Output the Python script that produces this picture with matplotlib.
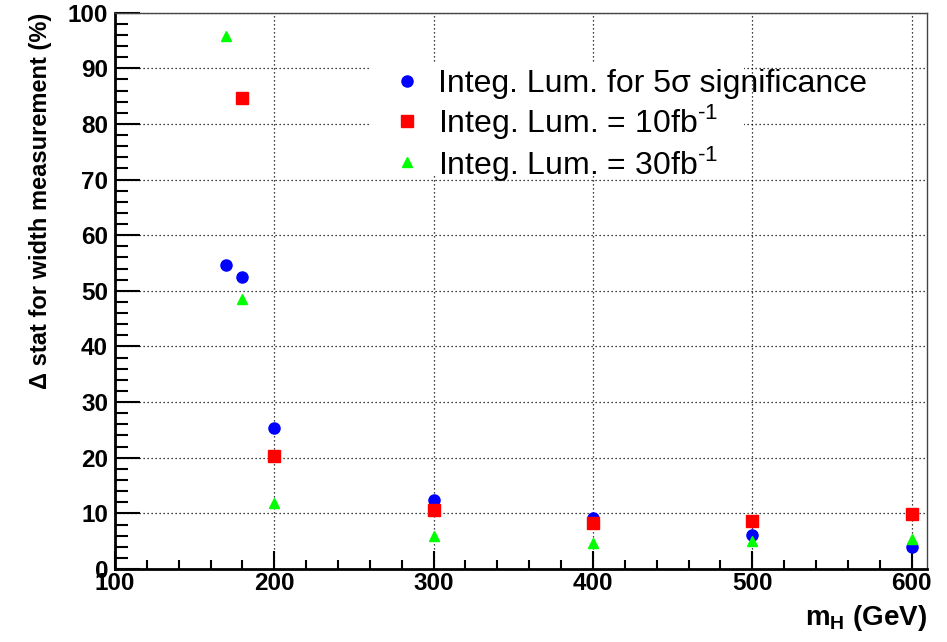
import matplotlib
matplotlib.use("Agg")
import matplotlib.pyplot as plt
from matplotlib.patches import Rectangle
from matplotlib.ticker import MultipleLocator

plt.rcParams["font.family"] = ["Liberation Sans", "DejaVu Sans"]
plt.rcParams["mathtext.fontset"] = "custom"
plt.rcParams["mathtext.rm"] = "Liberation Sans"
plt.rcParams["mathtext.bf"] = "Liberation Sans:bold"

# Higgs mass points (GeV) and relative stat. error on width (%)
mass_5sigma = [170, 180, 200, 300, 400, 500, 600]
err_5sigma = [54.7, 52.5, 25.3, 12.4, 9.2, 6.2, 3.9]

mass_10fb = [180, 200, 300, 400, 500, 600]
err_10fb = [84.6, 20.4, 10.6, 8.3, 8.7, 9.9]

mass_30fb = [170, 180, 200, 300, 400, 500, 600]
err_30fb = [95.8, 48.6, 11.8, 6.0, 4.6, 5.0, 5.4]

labels = [
    "Integ. Lum. for 5\u03c3 significance",
    r"Integ. Lum. = 10fb$^{\text{-}1}$",
    r"Integ. Lum. = 30fb$^{\text{-}1}$",
]

fig = plt.figure(figsize=(9.47, 6.42), dpi=100)
ax = fig.add_axes([0.1214, 0.1137, 0.858, 0.8665])

ax.plot(mass_5sigma, err_5sigma, "o", color="#0000ff", ms=8, mec="#0000ff", label=labels[0], zorder=3)
ax.plot(mass_10fb, err_10fb, "s", color="#ff0000", ms=8, mec="#ff0000", label=labels[1], zorder=4)
ax.plot(mass_30fb, err_30fb, "^", color="#00ff00", ms=7.5, mec="#00ff00", label=labels[2], zorder=5)

ax.set_xlim(100, 610)
ax.set_ylim(0, 100)

ax.xaxis.set_major_locator(MultipleLocator(100))
ax.xaxis.set_minor_locator(MultipleLocator(20))
ax.yaxis.set_major_locator(MultipleLocator(10))
ax.yaxis.set_minor_locator(MultipleLocator(2))

ax.tick_params(axis="x", which="major", direction="in", length=13, width=1.5, pad=2,
               labelsize=17.5)
ax.tick_params(axis="x", which="minor", direction="in", length=6.5, width=1.5)
ax.tick_params(axis="y", which="major", direction="in", length=18, width=1.5, pad=5,
               labelsize=17.5)
ax.tick_params(axis="y", which="minor", direction="in", length=9.5, width=1.5)
for lab in ax.get_xticklabels() + ax.get_yticklabels():
    lab.set_fontweight("bold")

for side in ["left", "bottom"]:
    ax.spines[side].set_linewidth(2)
    ax.spines[side].set_color("black")
for side in ["top", "right"]:
    ax.spines[side].set_linewidth(1)
    ax.spines[side].set_color("#444444")

ax.set_axisbelow(True)
ax.grid(True, which="major", color="black", linestyle=(0, (1, 2.2)), linewidth=0.9)

# white legend box hiding the grid behind it
ax.add_patch(Rectangle((261, 70.7), 234, 20.5, facecolor="white", edgecolor="none", zorder=1))

ax.legend(loc="upper left", bbox_to_anchor=(0.3407, 0.898), frameon=False,
          fontsize=23, borderpad=0, borderaxespad=0, handlelength=0.95,
          handletextpad=0.5, labelspacing=0.08, markerscale=1.0)

ax.set_xlabel(r"m$_{\mathbf{H}}$ (GeV)", fontsize=20, fontweight="bold", loc="right")
ax.xaxis.set_label_coords(1.0, -0.062)
ax.set_ylabel("\u0394 stat for width measurement (%)", fontsize=17, fontweight="bold", loc="top")
ax.yaxis.set_label_coords(-0.078, 1.0)

fig.savefig("out.png", dpi=100)
